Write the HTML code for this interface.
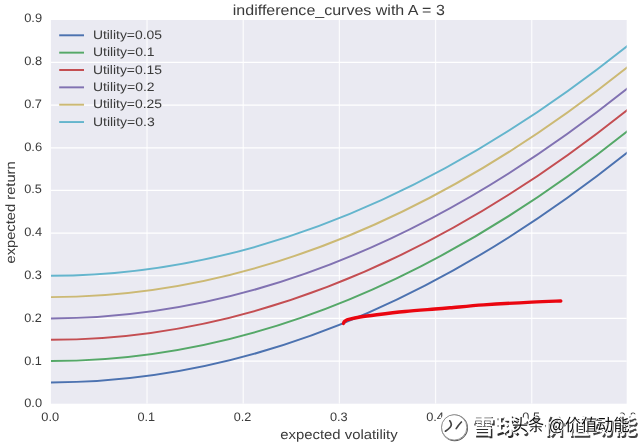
<!DOCTYPE html>
<html><head><meta charset="utf-8"><title>indifference_curves with A = 3</title>
<style>
html,body{margin:0;padding:0;background:#fff;}
body{width:641px;height:444px;overflow:hidden;font-family:"Liberation Sans",sans-serif;}
svg{display:block;will-change:transform}
text{font-family:"Liberation Sans",sans-serif;fill:#3a3a3a;text-rendering:geometricPrecision}
.tk{font-size:12.3px}
.lb{font-size:13.4px}
.tt{font-size:14.6px}
</style></head><body>
<svg width="641" height="444" viewBox="0 0 641 444">
<defs><clipPath id="ax"><rect x="50.9" y="20.0" width="575.8000000000001" height="383.7"/></clipPath></defs>
<rect x="0" y="0" width="641" height="444" fill="#ffffff"/>
<rect x="50.9" y="20.0" width="575.8000000000001" height="383.7" fill="#EAEAF2"/>
<path d="M147.03 19.81V403.75M243.21 19.81V403.75M339.39 19.81V403.75M435.57 19.81V403.75M531.75 19.81V403.75" stroke="#ffffff" stroke-width="1.3" stroke-opacity="0.8" fill="none" clip-path="url(#ax)"/>
<path d="M50.85 361.09H627.93M50.85 318.43H627.93M50.85 275.77H627.93M50.85 233.11H627.93M50.85 190.45H627.93M50.85 147.79H627.93M50.85 105.13H627.93M50.85 62.47H627.93" stroke="#ffffff" stroke-width="1.2" fill="none" clip-path="url(#ax)"/>
<g clip-path="url(#ax)" fill="none" stroke-width="1.95" stroke-linecap="butt">
<path d="M50.85 382.42Q339.39 382.42 627.93 152.06" stroke="#4C72B0"/>
<path d="M50.85 361.09Q339.39 361.09 627.93 130.73" stroke="#55A868"/>
<path d="M50.85 339.76Q339.39 339.76 627.93 109.40" stroke="#C44E52"/>
<path d="M50.85 318.43Q339.39 318.43 627.93 88.07" stroke="#8172B2"/>
<path d="M50.85 297.10Q339.39 297.10 627.93 66.74" stroke="#CCB974"/>
<path d="M50.85 275.77Q339.39 275.77 627.93 45.41" stroke="#64B5CD"/>
</g>
<path d="M343.5 323.4C343.63 323.12 343.88 322.20 344.3 321.7C344.72 321.20 345.27 320.78 346 320.4C346.73 320.02 346.37 319.97 348.7 319.4C351.03 318.83 355.32 317.78 360 317.0C364.68 316.22 369.30 315.62 376.8 314.7C384.30 313.78 395.30 312.45 405 311.5C414.70 310.55 427.50 309.62 435 309.0C442.50 308.38 441.88 308.48 450 307.8C458.12 307.12 470.08 305.85 483.7 304.9C497.32 303.95 518.85 302.75 531.7 302.1C544.55 301.45 555.95 301.18 560.8 301.0" stroke="#ea0610" stroke-width="3.4" fill="none" stroke-linecap="round" stroke-linejoin="round"/>
<text class="tt" x="232.81" y="14.70" textLength="211.99" lengthAdjust="spacingAndGlyphs">indifference_curves with A = 3</text>
<text class="tk" x="24.19" y="407.30" textLength="17.84" lengthAdjust="spacingAndGlyphs">0.0</text>
<text class="tk" x="24.20" y="364.53" textLength="17.66" lengthAdjust="spacingAndGlyphs">0.1</text>
<text class="tk" x="24.20" y="321.76" textLength="17.58" lengthAdjust="spacingAndGlyphs">0.2</text>
<text class="tk" x="24.19" y="278.99" textLength="17.74" lengthAdjust="spacingAndGlyphs">0.3</text>
<text class="tk" x="24.19" y="236.22" textLength="17.84" lengthAdjust="spacingAndGlyphs">0.4</text>
<text class="tk" x="24.20" y="193.45" textLength="17.63" lengthAdjust="spacingAndGlyphs">0.5</text>
<text class="tk" x="24.19" y="150.68" textLength="17.95" lengthAdjust="spacingAndGlyphs">0.6</text>
<text class="tk" x="24.19" y="107.91" textLength="17.76" lengthAdjust="spacingAndGlyphs">0.7</text>
<text class="tk" x="24.19" y="65.14" textLength="17.88" lengthAdjust="spacingAndGlyphs">0.8</text>
<text class="tk" x="24.19" y="22.37" textLength="17.91" lengthAdjust="spacingAndGlyphs">0.9</text>
<text class="tk" x="41.28" y="421.30" textLength="17.84" lengthAdjust="spacingAndGlyphs">0.0</text>
<text class="tk" x="137.50" y="421.30" textLength="17.66" lengthAdjust="spacingAndGlyphs">0.1</text>
<text class="tk" x="233.72" y="421.30" textLength="17.58" lengthAdjust="spacingAndGlyphs">0.2</text>
<text class="tk" x="329.94" y="421.30" textLength="17.74" lengthAdjust="spacingAndGlyphs">0.3</text>
<text class="tk" x="426.16" y="421.30" textLength="17.84" lengthAdjust="spacingAndGlyphs">0.4</text>
<text class="tk" x="522.38" y="421.30" textLength="17.63" lengthAdjust="spacingAndGlyphs">0.5</text>
<text class="tk" x="618.59" y="421.30" textLength="17.95" lengthAdjust="spacingAndGlyphs">0.6</text>
<text class="lb" x="280.29" y="438.80" textLength="117.32" lengthAdjust="spacingAndGlyphs">expected volatility</text>
<text class="lb" transform="translate(14.5 263.61) rotate(-90)" x="0.08" y="0" textLength="102.21" lengthAdjust="spacingAndGlyphs">expected return</text>
<path d="M59.2 35.30H84.0" stroke="#4C72B0" stroke-width="1.95" fill="none"/>
<text class="tk" x="92.93" y="38.90" textLength="69.01" lengthAdjust="spacingAndGlyphs">Utility=0.05</text>
<path d="M59.2 52.65H84.0" stroke="#55A868" stroke-width="1.95" fill="none"/>
<text class="tk" x="92.93" y="56.25" textLength="61.71" lengthAdjust="spacingAndGlyphs">Utility=0.1</text>
<path d="M59.2 70.00H84.0" stroke="#C44E52" stroke-width="1.95" fill="none"/>
<text class="tk" x="92.93" y="73.60" textLength="69.01" lengthAdjust="spacingAndGlyphs">Utility=0.15</text>
<path d="M59.2 87.35H84.0" stroke="#8172B2" stroke-width="1.95" fill="none"/>
<text class="tk" x="92.93" y="90.95" textLength="61.64" lengthAdjust="spacingAndGlyphs">Utility=0.2</text>
<path d="M59.2 104.70H84.0" stroke="#CCB974" stroke-width="1.95" fill="none"/>
<text class="tk" x="92.93" y="108.30" textLength="69.01" lengthAdjust="spacingAndGlyphs">Utility=0.25</text>
<path d="M59.2 122.05H84.0" stroke="#64B5CD" stroke-width="1.95" fill="none"/>
<text class="tk" x="92.93" y="125.65" textLength="61.78" lengthAdjust="spacingAndGlyphs">Utility=0.3</text>
<g id="wmA">
<path d="M466.9 427.4A12.7 12.7 0 1 1 441.5 427.4A12.7 12.7 0 1 1 466.9 427.4Z" fill="#fff" stroke="#fff" stroke-width="7"/>
<text x="471.5" y="434" textLength="165.5" lengthAdjust="spacing" style="font-family:'Liberation Sans','Noto Sans CJK SC',sans-serif;font-size:23px;font-weight:bold;fill:#fff;stroke:#fff;stroke-width:3px;stroke-linejoin:round">雪球：价值动能</text>
<text x="471.5" y="434" textLength="165.5" lengthAdjust="spacing" transform="translate(1.5 1.5)" style="font-family:'Liberation Sans','Noto Sans CJK SC',sans-serif;font-size:23px;font-weight:bold;fill:#444"><tspan style="fill:#2e2e2e">雪球</tspan>：价值动能</text>
<text x="471.5" y="434" textLength="165.5" lengthAdjust="spacing" style="font-family:'Liberation Sans','Noto Sans CJK SC',sans-serif;font-size:23px;font-weight:bold;fill:#fff">雪球：价值动能</text>
<path d="M466.9 427.4A12.7 12.7 0 1 1 441.5 427.4A12.7 12.7 0 1 1 466.9 427.4Z" fill="none" stroke="#555" stroke-width="1.2" transform="translate(0.5 0.5)"/>
<path d="M466.9 427.4A12.7 12.7 0 1 1 441.5 427.4A12.7 12.7 0 1 1 466.9 427.4Z" fill="#fff" stroke="#fff" stroke-width="0.6"/>
<path d="M466.9 427.4A12.7 12.7 0 1 1 441.5 427.4A12.7 12.7 0 1 1 466.9 427.4Z" fill="none" stroke="#666" stroke-width="0.7"/>
<path d="M449.8 420.8Q452.6 424.5 450.2 427.2Q448.3 429.3 445.4 431.2M461.4 422.0Q458.6 424.8 456.2 428.6" fill="none" stroke="#444" stroke-width="1.7" stroke-linecap="round"/>
</g>
<text id="wmB" x="512" y="430.5" textLength="117.5" lengthAdjust="spacingAndGlyphs" style="font-family:'Liberation Sans','Noto Sans CJK SC',sans-serif;font-size:17px;fill:#0c0c0c;stroke:#fff;stroke-width:1.3px;stroke-linejoin:round;paint-order:stroke">头条 @价值动能</text>
</svg></body></html>
